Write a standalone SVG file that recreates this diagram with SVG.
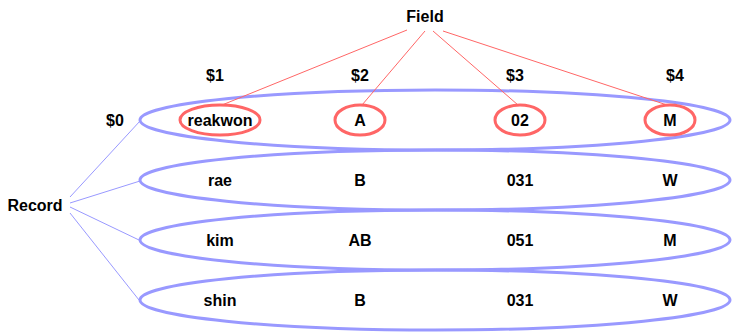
<svg xmlns="http://www.w3.org/2000/svg" width="732" height="332" viewBox="0 0 732 332">
<style>
text{font-family:"Liberation Sans",Arial,sans-serif;font-size:16px;font-weight:bold;fill:#000;text-anchor:middle;dominant-baseline:central}
.rec{fill:none;stroke:#9999ff;stroke-width:3}
.fld{fill:#fff;stroke:#ff6666;stroke-width:3}
.bl{stroke:#9999ff;stroke-width:1;fill:none}
.rl{stroke:#ff6666;stroke-width:1;fill:none}
</style>
<rect width="732" height="332" fill="#fff"/>
<g id="record0"><ellipse class="rec" cx="435" cy="120" rx="295" ry="30"/></g>
<g id="record1"><ellipse class="rec" cx="435" cy="180" rx="295" ry="30"/></g>
<g id="record2"><ellipse class="rec" cx="435" cy="240" rx="295" ry="30"/></g>
<g id="record3"><ellipse class="rec" cx="435" cy="300" rx="295" ry="30"/></g>
<g id="connectors">
<line class="rl" x1="407" y1="30" x2="222" y2="105"/>
<line class="rl" x1="425" y1="31" x2="362" y2="105"/>
<line class="rl" x1="433" y1="31" x2="518" y2="105"/>
<line class="rl" x1="443" y1="31" x2="667" y2="105"/>
<line class="bl" x1="70" y1="197" x2="140" y2="121"/>
<line class="bl" x1="70" y1="203" x2="140" y2="181"/>
<line class="bl" x1="70" y1="207" x2="139" y2="240"/>
<line class="bl" x1="70" y1="213" x2="139" y2="300"/>
</g>
<g id="f1"><ellipse class="fld" cx="220" cy="120" rx="40" ry="15"/><text x="220" y="120">reakwon</text></g>
<g id="f2"><ellipse class="fld" cx="360" cy="120" rx="25" ry="15"/><text x="360" y="120">A</text></g>
<g id="f3"><ellipse class="fld" cx="520" cy="120" rx="25" ry="15"/><text x="520" y="120">02</text></g>
<g id="f4"><ellipse class="fld" cx="670" cy="120" rx="25" ry="15"/><text x="670" y="120">M</text></g>
<g id="field"><text x="425" y="16">Field</text></g>
<g id="record"><text x="35" y="205">Record</text></g>
<g id="d0"><text x="115" y="120">$0</text></g>
<g id="d1"><text x="215" y="75">$1</text></g>
<g id="d2"><text x="360" y="75">$2</text></g>
<g id="d3"><text x="515" y="75">$3</text></g>
<g id="d4"><text x="675" y="75">$4</text></g>
<g id="row1"><text x="220" y="180">rae</text><text x="360" y="180">B</text><text x="520" y="180">031</text><text x="670" y="180">W</text></g>
<g id="row2"><text x="220" y="240">kim</text><text x="360" y="240">AB</text><text x="520" y="240">051</text><text x="670" y="240">M</text></g>
<g id="row3"><text x="220" y="300">shin</text><text x="360" y="300">B</text><text x="520" y="300">031</text><text x="670" y="300">W</text></g>
</svg>
